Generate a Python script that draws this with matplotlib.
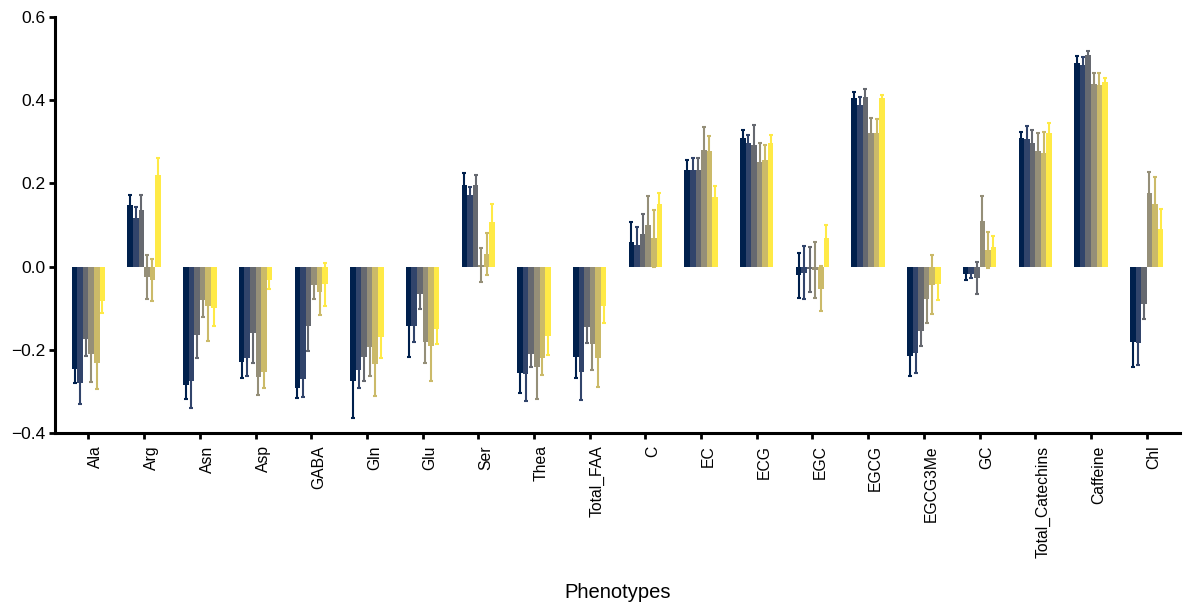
import numpy as np
import matplotlib
matplotlib.use('Agg')
import matplotlib.pyplot as plt

plt.rcParams['font.family'] = ['Liberation Sans', 'DejaVu Sans']

# phenotypes on the x axis
phenotypes = ['Ala', 'Arg', 'Asn', 'Asp', 'GABA', 'Gln', 'Glu', 'Ser', 'Thea',
              'Total_FAA', 'C', 'EC', 'ECG', 'EGC', 'EGCG', 'EGCG3Me', 'GC',
              'Total_Catechins', 'Caffeine', 'Chl']

# six series per phenotype (mean values)
s1 = [-0.247, 0.147, -0.285, -0.229, -0.292, -0.275, -0.143, 0.197, -0.257, -0.217,
      0.058, 0.231, 0.308, -0.021, 0.404, -0.214, -0.019, 0.309, 0.489, -0.181]
s2 = [-0.281, 0.116, -0.275, -0.219, -0.271, -0.248, -0.143, 0.171, -0.259, -0.253,
      0.051, 0.233, 0.296, -0.015, 0.389, -0.207, -0.017, 0.306, 0.484, -0.183]
s3 = [-0.175, 0.135, -0.164, -0.159, -0.143, -0.217, -0.066, 0.195, -0.210, -0.145,
      0.078, 0.233, 0.293, -0.007, 0.408, -0.154, -0.028, 0.297, 0.509, -0.090]
s4 = [-0.210, -0.025, -0.080, -0.265, -0.045, -0.194, -0.181, 0.004, -0.241, -0.186,
      0.101, 0.281, 0.251, -0.008, 0.321, -0.077, 0.110, 0.278, 0.438, 0.176]
s5 = [-0.232, -0.032, -0.095, -0.253, -0.061, -0.234, -0.192, 0.030, -0.220, -0.220,
      0.068, 0.277, 0.257, -0.053, 0.321, -0.044, 0.040, 0.273, 0.436, 0.150]
s6 = [-0.083, 0.221, -0.099, -0.033, -0.043, -0.169, -0.150, 0.108, -0.168, -0.095,
      0.150, 0.167, 0.296, 0.068, 0.404, -0.042, 0.046, 0.322, 0.443, 0.090]

# standard errors
e1 = [0.034, 0.024, 0.034, 0.039, 0.024, 0.090, 0.074, 0.028, 0.048, 0.050,
      0.050, 0.026, 0.020, 0.054, 0.016, 0.049, 0.014, 0.015, 0.017, 0.061]
e2 = [0.049, 0.026, 0.064, 0.044, 0.042, 0.043, 0.038, 0.021, 0.065, 0.067,
      0.045, 0.027, 0.020, 0.064, 0.019, 0.050, 0.010, 0.031, 0.020, 0.053]
e3 = [0.041, 0.037, 0.055, 0.074, 0.059, 0.059, 0.037, 0.024, 0.031, 0.039,
      0.048, 0.028, 0.046, 0.054, 0.018, 0.038, 0.038, 0.031, 0.009, 0.036]
e4 = [0.068, 0.052, 0.041, 0.044, 0.034, 0.070, 0.052, 0.040, 0.078, 0.062,
      0.068, 0.054, 0.045, 0.067, 0.037, 0.059, 0.060, 0.042, 0.026, 0.052]
e5 = [0.062, 0.051, 0.084, 0.040, 0.056, 0.077, 0.082, 0.051, 0.041, 0.069,
      0.069, 0.036, 0.035, 0.055, 0.033, 0.071, 0.044, 0.050, 0.028, 0.066]
e6 = [0.029, 0.041, 0.044, 0.021, 0.052, 0.050, 0.036, 0.043, 0.045, 0.040,
      0.027, 0.026, 0.020, 0.032, 0.009, 0.038, 0.028, 0.023, 0.011, 0.048]

series = [s1, s2, s3, s4, s5, s6]
errors = [e1, e2, e3, e4, e5, e6]
colors = ['#00204D', '#31446B', '#666970', '#958F78', '#CBBA69', '#FFEA46']

fig, ax = plt.subplots(figsize=(11.86, 6.03), dpi=100)
fig.subplots_adjust(left=0.0464, right=0.995, bottom=0.282, top=0.972)

x = np.arange(len(phenotypes))
width = 0.1
for i, (vals, errs, col) in enumerate(zip(series, errors, colors)):
    pos = x + (i - 2.5) * width
    # error bars sit behind the bars, so only the outer half shows
    ax.errorbar(pos, vals, yerr=errs, fmt='none', ecolor=col, elinewidth=1.5,
                capsize=1.5, capthick=1.5, zorder=1)
    ax.bar(pos, vals, width=width, color=col, linewidth=0, zorder=3)

ax.set_xlim(-0.6, 19.6)
ax.set_ylim(-0.4, 0.6)
ax.set_yticks([-0.4, -0.2, 0.0, 0.2, 0.4, 0.6])
ax.set_yticklabels(['\u22120.4', '\u22120.2', '0.0', '0.2', '0.4', '0.6'])
ax.set_xticks(x)
ax.set_xticklabels(phenotypes, rotation=90, ha='left', va='top')

for side in ['top', 'right']:
    ax.spines[side].set_visible(False)
for side in ['left', 'bottom']:
    ax.spines[side].set_linewidth(2.2)
ax.tick_params(axis='both', width=2, length=4, color='black')
ax.tick_params(axis='y', labelsize=12.5, pad=3)
ax.tick_params(axis='x', labelsize=11.3, pad=5)

ax.set_xlabel('Phenotypes', fontsize=14.5, va='top')
ax.xaxis.set_label_coords(0.5, -0.36)

plt.savefig('out.png', dpi=100)
